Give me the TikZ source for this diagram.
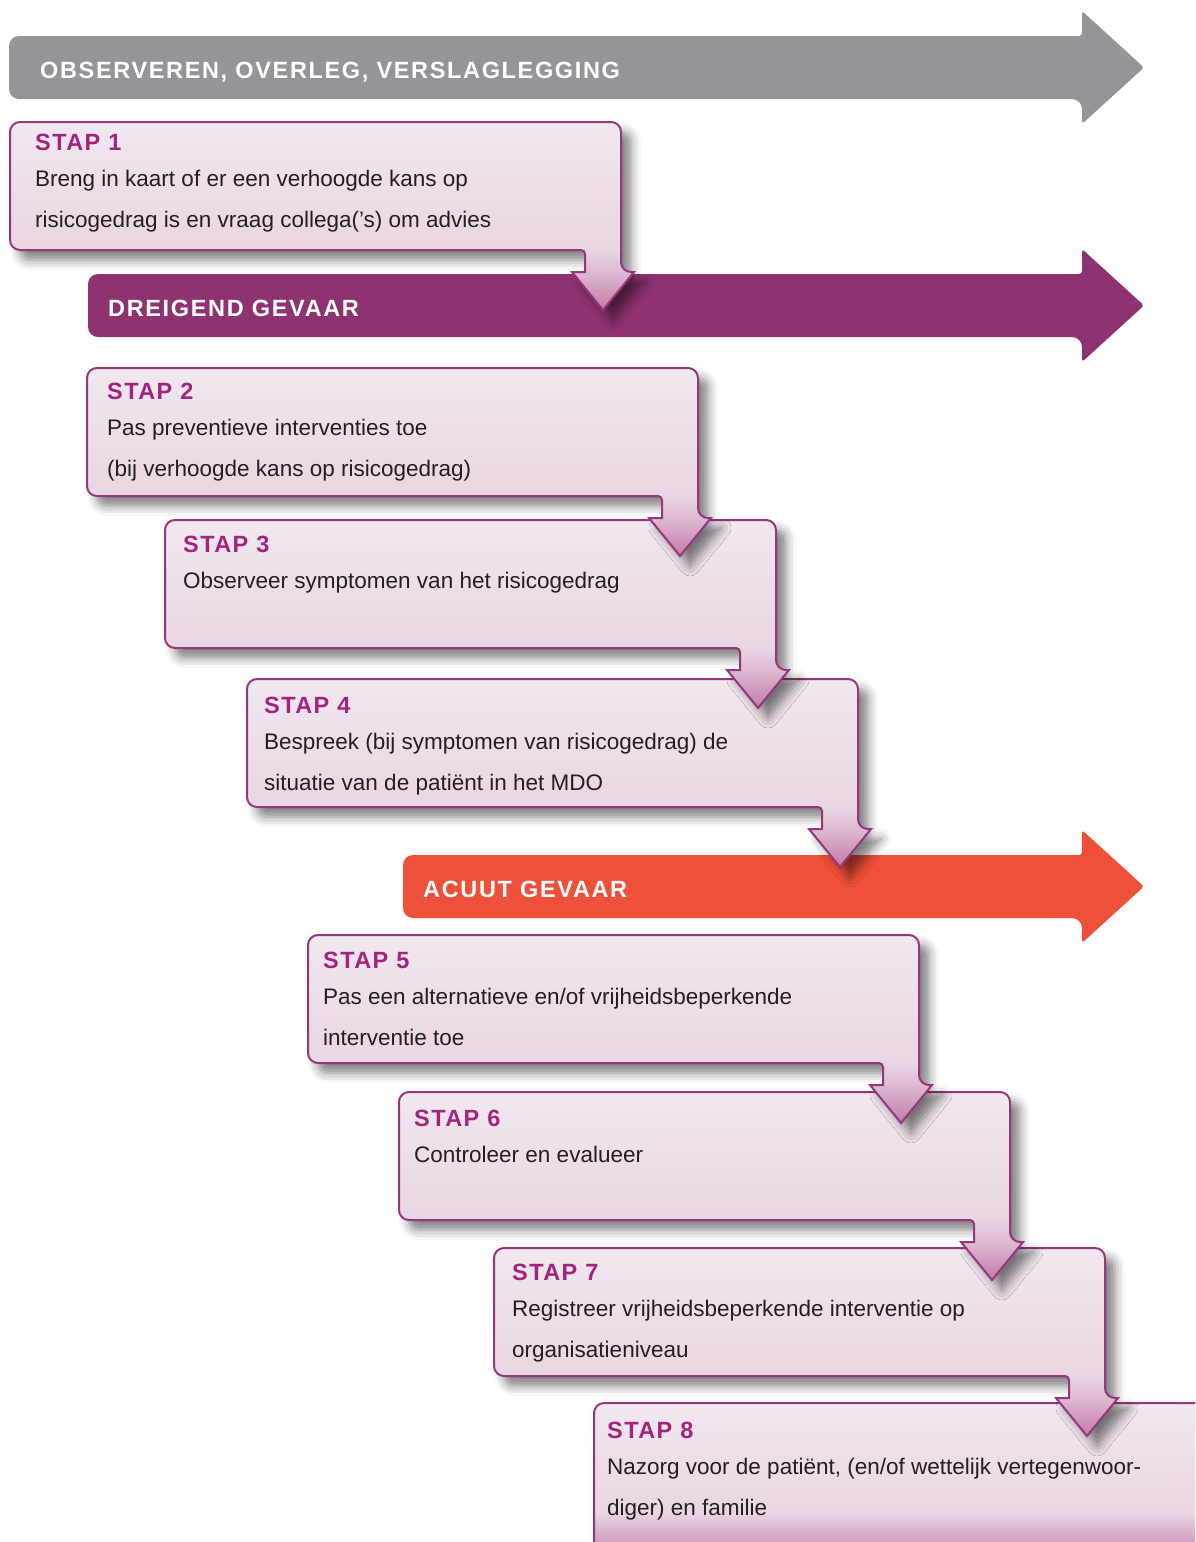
\documentclass[tikz,border=0pt]{standalone}
\usepackage{fontspec}
\setmainfont{Liberation Sans}
\newfontfamily\balkfont[LetterSpace=7]{Liberation Sans}
\newfontfamily\titelfont[LetterSpace=6]{Liberation Sans}
\usepackage{tikz}
\usetikzlibrary{shadows.blur}
\definecolor{grijs}{RGB}{147,149,152}
\definecolor{paars}{RGB}{143,51,112}
\definecolor{rood}{RGB}{239,80,57}
\definecolor{staprand}{RGB}{150,55,125}
\definecolor{staptitel}{RGB}{164,36,125}
\definecolor{steksttint}{RGB}{35,31,32}
\definecolor{stappunt}{RGB}{194,123,167}
\definecolor{stapmidden}{RGB}{221,185,208}
\definecolor{stapbodem}{RGB}{233,214,227}
\definecolor{stapboven}{RGB}{240,232,240}
\pgfdeclareverticalshading{stapkleur}{100bp}{color(0bp)=(stappunt); color(25bp)=(stappunt); color(35bp)=(stapmidden); color(41bp)=(stapbodem); color(75bp)=(stapboven); color(100bp)=(stapboven)}
\pgfdeclareverticalshading{slotkleur}{100bp}{color(0bp)=(stappunt); color(25bp)=(stappunt); color(40bp)=(stapbodem); color(75bp)=(stapboven); color(100bp)=(stapboven)}
\tikzset{
  stapvorm/.style={draw=staprand, line width=2pt, shade, shading=stapkleur,
    blur shadow={shadow xshift=10pt, shadow yshift=-10pt, shadow blur radius=10pt, shadow opacity=50}},
  balktekst/.style={anchor=base west, inner sep=0pt, text=white, font=\balkfont\bfseries\fontsize{23.5}{28}\selectfont},
  titel/.style={anchor=base west, inner sep=0pt, text=staptitel, font=\titelfont\bfseries\fontsize{23.5}{28}\selectfont},
  stapbody/.style={anchor=base west, inner sep=0pt, text=steksttint, font=\fontsize{22.5}{41}\selectfont}
}
\newcommand{\regels}[1]{\begin{tabular}[t]{@{}l@{}}#1\end{tabular}}
\newcommand{\balkpijl}[6] {\path [fill=#4, rounded corners=10pt] (1082,#3) -- (#2,#3) -- (#2,#3+63) -- (1082,#3+63) [rounded corners=3pt] -- (1082,#3+88) -- (1144,#3+31.5) -- (1082,#3-25) -- cycle; \node at (#5,#3+42) (#1) [balktekst] {#6};}
\newcommand{\stapkader}[2] {\path [stapvorm] (#1,#2+64) [rounded corners=10pt] -- (#1,#2) -- (#1+611,#2) -- (#1+611,#2+150) [sharp corners] -- (#1+624,#2+150) -- (#1+593,#2+188) -- (#1+562,#2+150) -- (#1+575,#2+150) [rounded corners=4pt] -- (#1+575,#2+128) [rounded corners=10pt] -- (#1,#2+128) -- cycle;}
\newcommand{\stapnode}[5] {\node at (#1,#2) (#3) [titel] {#4}; \node at (#1,#2+36) (#3tekst) [stapbody] {\regels{#5}};}

\begin{document}
\begin{tikzpicture}[x=1pt, y=-1pt]
\useasboundingbox (0,0) rectangle (1195,1542);
\clip (0,0) rectangle (1195,1542);

\balkpijl {observeren}{9}{36}{grijs}{40}{OBSERVEREN, OVERLEG, VERSLAGLEGGING};
\balkpijl {dreigend}{88}{274}{paars}{108}{DREIGEND GEVAAR};
\balkpijl {acuut}{403}{855}{rood}{423}{ACUUT GEVAAR};

% laatste stap loopt van de pagina af
\path [draw=staprand, line width=2pt, shade, shading=slotkleur, rounded corners=10pt] (594,1470) -- (594,1403) -- (1215,1403) -- (1215,1560) -- (594,1560) -- cycle;
\stapnode {607}{1438}{stap8}{STAP 8}{Nazorg voor de patiënt, (en/of wettelijk vertegenwoor-\\diger) en familie};

\stapkader {494}{1248};
\stapnode {512}{1280}{stap7}{STAP 7}{Registreer vrijheidsbeperkende interventie op\\organisatieniveau};
\stapkader {399}{1092};
\stapnode {414}{1126}{stap6}{STAP 6}{Controleer en evalueer};
\stapkader {308}{935};
\stapnode {323}{968}{stap5}{STAP 5}{Pas een alternatieve en/of vrijheidsbeperkende\\interventie toe};
\stapkader {247}{679};
\stapnode {264}{713}{stap4}{STAP 4}{Bespreek (bij symptomen van risicogedrag) de\\situatie van de patiënt in het MDO};
\stapkader {165}{520};
\stapnode {183}{552}{stap3}{STAP 3}{Observeer symptomen van het risicogedrag};
\stapkader {87}{368};
\stapnode {107}{399}{stap2}{STAP 2}{Pas preventieve interventies toe\\(bij verhoogde kans op risicogedrag)};
\stapkader {10}{122};
\stapnode {35}{150}{stap1}{STAP 1}{Breng in kaart of er een verhoogde kans op\\risicogedrag is en vraag collega(’s) om advies};

\end{tikzpicture}
\end{document}
